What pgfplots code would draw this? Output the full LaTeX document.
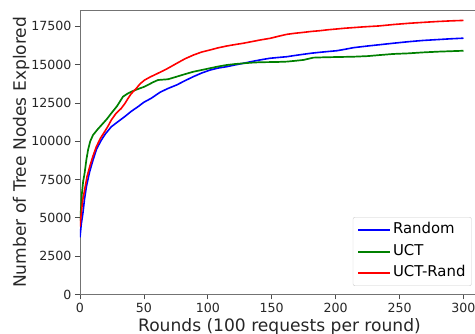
\documentclass[border=0pt]{standalone}
\usepackage{pgfplots}
\pgfplotsset{compat=1.18}
\usepackage{fontspec}
\setmainfont{DejaVu Sans}
\definecolor{mplblue}{RGB}{0,0,255}
\definecolor{mplgreen}{RGB}{0,128,0}
\definecolor{mplred}{RGB}{255,0,0}
\begin{document}
\begin{tikzpicture}
\begin{axis}[
  scale only axis,
  width=395pt, height=284.5pt,
  xmin=0, xmax=309,
  ymin=0, ymax=18570,
  axis x line*=box,
  axis y line*=left,
  y axis line style={-},
  x axis line style={-},
  axis line style={black!55, line width=0.9pt},
  xtick pos=lower, ytick pos=left,
  tick align=outside,
  major tick length=5pt,
  tick style={black!70, line width=0.8pt},
  xtick={0,50,100,150,200,250,300},
  ytick={0,2500,5000,7500,10000,12500,15000,17500},
  scaled y ticks=false,
  scaled x ticks=false,
  /pgf/number format/1000 sep={},
  /pgf/number format/assume math mode=true,
  yticklabel={\pgfmathprintnumber[fixed,precision=0,1000 sep={}]{\tick}},
  tick label style={font=\fontsize{12.6}{15}\selectfont, text=black!85},
  xlabel={Rounds (100 requests per round)},
  ylabel={Number of Tree Nodes Explored},
  label style={font=\fontsize{17.1}{20}\selectfont, text=black!85},
  xlabel style={at={(axis description cs:0.505,-0.1308)}, anchor=base},
  ylabel style={at={(axis description cs:-0.1367,0.5)}, anchor=base, rotate=0},
  legend style={at={(axis description cs:0.9916,0.030)}, anchor=south east,
    draw=black!20, rounded corners=2pt, fill=white,
    font=\fontsize{14.9}{17}\selectfont,
    inner xsep=4pt, inner ysep=2pt,
    nodes={inner ysep=3.5pt, text height=11pt, text depth=3.5pt},
    /tikz/every even column/.append style={column sep=3pt}},
  legend cell align=left,
  legend image code/.code={\draw[#1, line width=2pt] (0pt,0pt) -- (32pt,0pt);},
]
\addplot[color=mplblue, line width=1.6pt, line join=round] coordinates {
(0,3730) (1,4600) (2.3,5320) (3.5,6200) (5,7040) (7.5,8000) (10.2,8780) (13,9500)
(16.7,10080) (20,10500) (24.5,10950) (30,11300) (35,11610) (40,11950) (45.4,12260)
(50,12550) (55.8,12810) (62.6,13200) (68.9,13450) (75.7,13680) (82,13950) (88.7,14220)
(95,14450) (101.7,14650) (108,14780) (114.8,14870) (121,14980) (127.8,15090) (134,15200)
(140.8,15310) (148.7,15420) (155,15470) (161.7,15520) (168,15600) (174.8,15680)
(181,15750) (187.8,15810) (194,15860) (200.8,15910) (207,16000) (213.8,16110)
(225,16220) (234,16300) (245,16400) (256.9,16500) (268,16580) (280,16640) (290,16690)
(300,16730)
};
\addlegendentry{Random}
\addplot[color=mplgreen, line width=1.7pt, line join=round] coordinates {
(0,4800) (0.7,5500) (1.5,6600) (2.5,7400) (3.6,7910) (5,8800) (6.3,9430) (8,10000)
(10.2,10410) (14,10800) (18,11170) (21,11450) (24.5,11830) (29,12300) (33.6,12910)
(37,13100) (40.2,13240) (45,13400) (50,13550) (53.2,13680) (57,13850) (61,14000)
(68.9,14050) (75.7,14220) (82,14380) (88.7,14540) (95,14650) (101.7,14770) (108,14880)
(114.8,14980) (121,15040) (127.8,15090) (134,15130) (140.8,15160) (148.7,15170)
(155,15180) (161.7,15200) (168,15250) (174.8,15310) (182.6,15460) (190,15480)
(200.8,15500) (213.8,15520) (225,15560) (234.7,15630) (245,15700) (256.9,15740)
(268,15800) (280,15850) (290,15880) (300,15910)
};
\addlegendentry{UCT}
\addplot[color=mplred, line width=1.6pt, line join=round] coordinates {
(0,4430) (1,5300) (2,6100) (3.6,6820) (5.5,7700) (7.6,8340) (10,9000) (12.8,9650)
(16,10200) (19.3,10630) (22,11000) (24.5,11390) (28,11800) (32.3,12150) (35,12450)
(37.6,12800) (40,13100) (44.1,13460) (47,13750) (50.6,14000) (55,14200) (61,14440)
(65,14600) (68.9,14770) (75.7,15090) (82,15380) (88.7,15630) (95,15820) (101.7,15960)
(108,16100) (114.8,16220) (121,16310) (127.8,16400) (134,16500) (140.8,16610)
(148.7,16720) (155,16850) (161.7,16980) (168,17050) (174.8,17110) (181,17170)
(187.8,17220) (194,17280) (200.8,17330) (207,17380) (213.8,17420) (222,17470)
(234,17530) (245,17620) (256.9,17700) (268,17760) (280,17820) (290,17860) (300,17890)
};
\addlegendentry{UCT-Rand}
\end{axis}
\pgfresetboundingbox
\useasboundingbox (-80pt,-39.5pt) rectangle (395pt,294.5pt);
\end{tikzpicture}
\end{document}
